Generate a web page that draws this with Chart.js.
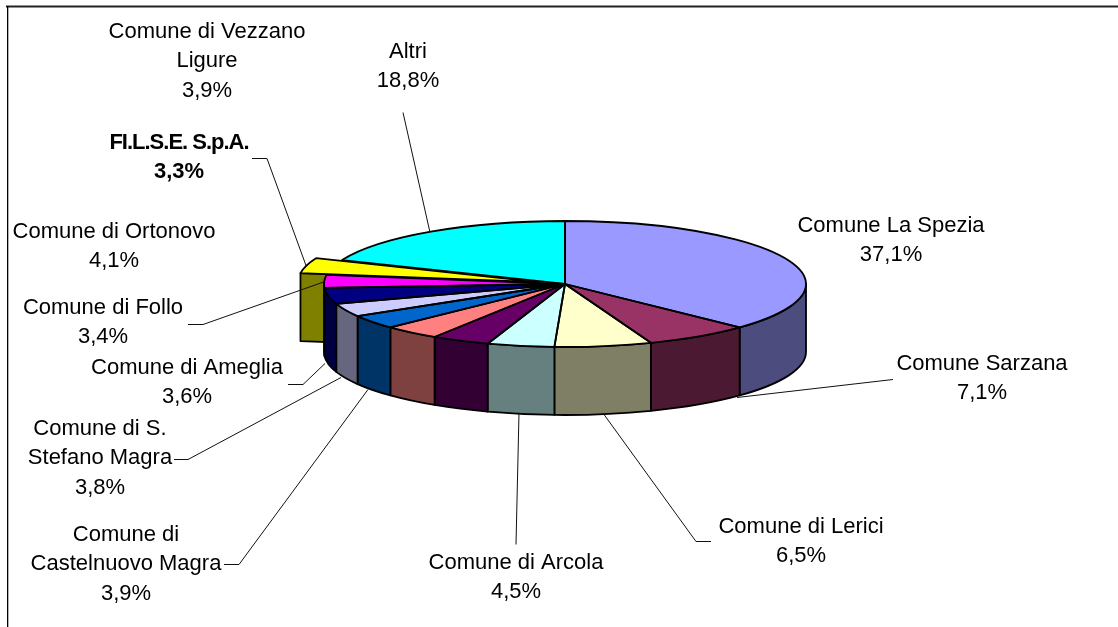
<!DOCTYPE html>
<html lang="it">
<head>
<meta charset="utf-8">
<title>Torta 3D</title>
<style>
html,body{margin:0;padding:0;background:#fff;overflow:hidden}
canvas{display:block}
</style>
<script src="https://cdn.jsdelivr.net/npm/chart.js@4/dist/chart.umd.min.js"></script>
</head>
<body>
<canvas id="c" width="1118" height="627"></canvas>
<script>
const categories = ["Comune La Spezia","Comune Sarzana","Comune di Lerici","Comune di Arcola","Comune di Castelnuovo Magra","Comune di S. Stefano Magra","Comune di Ameglia","Comune di Follo","Comune di Ortonovo","F.I.L.S.E. S.p.A.","Comune di Vezzano Ligure","Altri"];
const values = [37.1,7.1,6.5,4.5,3.9,3.8,3.6,3.4,4.1,3.3,3.9,18.8];
const colors = ["#9999FF","#993366","#FFFFCC","#CCFFFF","#660066","#FF8080","#0066CC","#CCCCFF","#000080","#FF00FF","#FFFF00","#00FFFF"];
const labelLines = [["Comune La Spezia"],["Comune Sarzana"],["Comune di Lerici"],["Comune di Arcola"],["Comune di","Castelnuovo Magra"],["Comune di S.","Stefano Magra"],["Comune di Ameglia"],["Comune di Follo"],["Comune di Ortonovo"],["FI.L.S.E. S.p.A."],["Comune di Vezzano","Ligure"],["Altri"]];
const boldIndex = 9;
const labelCentres = [[891,226],[982,364],[801,527],[516,563],[126,535],[100,429],[187,368],[103,308],[114,232],[179,143],[207,32],[408,52]];
const leaders = [
  [[893,379],[737,397]],
  [[711,541],[696,541],[604,414]],
  [[516,544],[519,412]],
  [[224,564],[239,564],[368,389]],
  [[174,459],[188,459],[341,377]],
  [[288,384],[303,384],[325,363]],
  [[188,324],[203,324],[325,281]],
  [[252,158],[267,158],[306,265]],
  [[403,112],[430,232]]
];
const RADIUS = 241, SQUASH = 63/241, DEPTH = 68, EXPLODE_INDEX = 10, EXPLODE = 27;

function halve(hex){
  const n = parseInt(hex.slice(1),16);
  return `rgb(${(n>>16&255)>>1},${(n>>8&255)>>1},${(n&255)>>1})`;
}
function shift(arc,i){
  if(i!==EXPLODE_INDEX) return [0,0];
  const m=(arc.startAngle+arc.endAngle)/2;
  return [EXPLODE*Math.cos(m),EXPLODE*Math.sin(m)];
}
function stroke(ctx){ctx.lineWidth=1.8;ctx.strokeStyle='#000';ctx.lineJoin='round';ctx.stroke();}

const pie3d = {
  id:'pie3d',
  beforeDatasetsDraw(chart){
    const ctx=chart.ctx, arcs=chart.getDatasetMeta(0).data;
    const cx=arcs[0].x, cy=arcs[0].y, r=arcs[0].outerRadius;
    // frame
    ctx.fillStyle='#222';
    ctx.fillRect(6,5.5,1112,2);
    ctx.fillStyle='#000';
    ctx.fillRect(7,6,1.3,621);
    // cut face of the exploded slice
    const e=arcs[EXPLODE_INDEX], [dx,dy]=shift(e,EXPLODE_INDEX);
    const tx=cx+dx, ty=cy+dy*SQUASH;
    const ox=tx+r*Math.cos(e.startAngle), oy=ty+r*Math.sin(e.startAngle)*SQUASH;
    ctx.beginPath();ctx.moveTo(tx,ty);ctx.lineTo(ox,oy);ctx.lineTo(ox,oy+DEPTH);ctx.lineTo(tx,ty+DEPTH);ctx.closePath();
    ctx.fillStyle=halve(colors[EXPLODE_INDEX]);ctx.fill();stroke(ctx);
    // rims
    arcs.forEach((a,i)=>{
      const s=Math.max(a.startAngle,0), t=Math.min(a.endAngle,Math.PI);
      if(t<=s) return;
      ctx.beginPath();
      ctx.ellipse(cx,cy,r,r*SQUASH,0,s,t,false);
      ctx.ellipse(cx,cy+DEPTH,r,r*SQUASH,0,t,s,true);
      ctx.closePath();
      ctx.fillStyle=halve(colors[i]);ctx.fill();stroke(ctx);
    });
    // exploded slice is moved when the element draws itself
    if(!e._moved){
      const base=e.draw;
      e.draw=function(c,area){c.save();c.translate(dx,dy);base.call(this,c,area);c.restore();};
      e._moved=true;
    }
    ctx.save();
    ctx.translate(0,cy);ctx.scale(1,SQUASH);ctx.translate(0,-cy);
  },
  afterDatasetsDraw(chart){
    const ctx=chart.ctx, arcs=chart.getDatasetMeta(0).data;
    ctx.restore();
    const cx=arcs[0].x, cy=arcs[0].y, r=arcs[0].outerRadius;
    // slice outlines, built in the squashed space and stroked in plain pixels
    arcs.forEach((a,i)=>{
      const [dx,dy]=shift(a,i);
      ctx.save();
      ctx.translate(0,cy);ctx.scale(1,SQUASH);ctx.translate(0,-cy);
      ctx.beginPath();
      ctx.moveTo(cx+dx,cy+dy);
      ctx.arc(cx+dx,cy+dy,r,a.startAngle,a.endAngle);
      ctx.closePath();
      ctx.restore();
      stroke(ctx);
    });
    // leader lines
    ctx.lineWidth=1;ctx.strokeStyle='#111';
    leaders.forEach(l=>{
      ctx.beginPath();
      l.forEach((p,k)=>k?ctx.lineTo(p[0],p[1]+.5):ctx.moveTo(p[0],p[1]+.5));
      ctx.stroke();
    });
    // labels
    ctx.fillStyle='#000';ctx.textAlign='center';ctx.textBaseline='middle';
    labelLines.forEach((lines,i)=>{
      const bold=i===boldIndex;
      ctx.font=(bold?'bold 22px':'22px')+' "Liberation Sans", Arial, sans-serif';
      const all=[...lines,values[i].toFixed(1).replace('.',',')+'%'];
      const [x,y]=labelCentres[i];
      all.forEach((t,k)=>{
        ctx.letterSpacing=(bold&&k===0)?'-1px':'0px';
        ctx.fillText(t,x,y+k*29.3);
      });
    });
    ctx.letterSpacing='0px';
  }
};

new Chart(document.getElementById('c'),{
  type:'pie',
  data:{labels:categories,datasets:[{data:values,backgroundColor:colors,borderWidth:0,clip:false}]},
  options:{
    responsive:false,animation:false,radius:RADIUS,
    layout:{padding:{left:12,bottom:59}},
    plugins:{legend:{display:false},tooltip:{enabled:false},title:{display:false}},
    events:[]
  },
  plugins:[pie3d]
});
</script>
</body>
</html>
